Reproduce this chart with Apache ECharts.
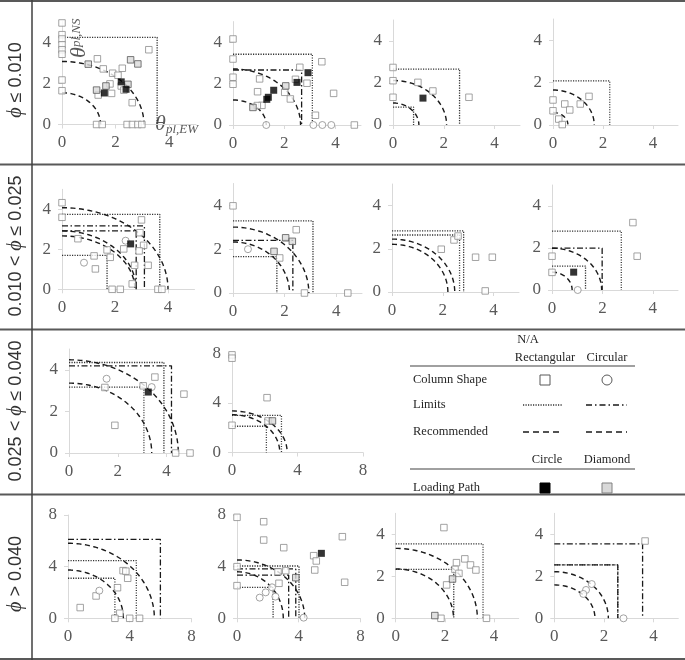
<!DOCTYPE html>
<html>
<head>
<meta charset="utf-8">
<script src="https://cdn.jsdelivr.net/npm/echarts@6/dist/echarts.min.js"></script>
<style>html,body{margin:0;padding:0;background:#fff}#c{width:685px;height:660px}</style>
</head>
<body>
<div id="c"></div>
<script>
// ---------------- DATA ----------------
// panel order: row1 c1..c4, row2 c1..c4, row3 c1..c2, row4 c1..c4
const panelAxisMax = [5,5,5,5, 5,5,5,5, 5,8, 8,8,5,5];
const tickLabels5 = [0,2,4];
const tickLabels8 = [0,4,8];
const rowLabels = ['ϕ ≤ 0.010','0.010 < ϕ ≤ 0.025','0.025 < ϕ ≤ 0.040','ϕ > 0.040'];

// [panel, θpl,EW, θpl,NS]
const openSquares = [
 [0,0,4.93],[0,0,4.36],[0,0,4.15],[0,0,3.87],[0,0,3.63],[0,0,3.41],[0,0,2.16],[0,0,1.64],
 [0,3.24,3.63],[0,1.32,3.19],[0,1.54,2.70],[0,2.25,2.73],[0,1.89,2.49],[0,2.09,2.39],[0,1.79,1.97],
 [0,1.35,1.43],[0,1.85,1.51],[0,2.21,1.87],[0,2.31,1.67],[0,2.62,1.06],
 [0,1.29,0],[0,1.50,0],[0,2.43,0],[0,2.63,0],[0,2.83,0],[0,2.98,0],
 [1,0,4.16],[1,0,3.19],[1,0,2.31],[1,0,1.97],[1,3.47,3.06],[1,2.61,2.79],[1,2.89,2.02],[1,2.44,2.21],
 [1,2.02,1.58],[1,2.24,1.26],[1,1.04,2.23],[1,0.96,1.61],[1,1.13,0.95],[1,0.95,0.94],[1,3.93,1.53],
 [1,3.22,0.47],[1,4.74,0],
 [2,0,2.74],[2,0,2.11],[2,0,1.32],[2,0.98,2.03],[2,1.57,1.62],[2,2.99,1.32],
 [3,0,1.18],[3,0,0.67],[3,0.23,0.28],[3,0.37,0.02],[3,0.47,0.99],[3,0.67,0.71],[3,1.09,0.99],[3,1.44,1.35],
 [4,0,4.33],[4,0,3.6],[4,0.6,2.53],[4,3.0,3.47],[4,2.94,2.83],[4,2.33,2.02],[4,3.08,2.2],[4,2.91,1.92],
 [4,2.74,1.2],[4,3.25,1.2],[4,2.65,0.27],[4,1.70,1.97],[4,1.82,1.6],[4,1.21,1.67],[4,1.26,1.02],
 [4,1.89,0],[4,2.2,0],[4,3.62,0],[4,3.77,0],
 [5,0,3.98],[5,2.45,2.89],[5,1.81,1.60],[5,2.77,0],[5,4.45,0],
 [6,1.94,1.98],[6,2.44,2.41],[6,2.6,2.59],[6,3.29,1.61],[6,3.95,1.61],[6,3.67,0.05],
 [7,0,1.61],[7,0,0.84],[7,3.21,3.21],[7,3.38,1.61],
 [8,1.47,3.15],[8,3.04,3.23],[8,3.52,3.65],[8,1.88,1.33],[8,4.71,2.83],[8,4.37,0],[8,4.96,0],
 [9,0,7.89],[9,0,7.62],[9,0,2.2],[9,2.14,4.43],[9,2.2,2.55],
 [10,0.79,0.83],[10,1.82,1.73],[10,3.57,3.69],[10,3.75,3.65],[10,3.87,3.1],[10,3.21,2.37],[10,3.36,0.39],
 [10,3.04,0],[10,4.0,0],[10,4.64,0],
 [11,0,7.82],[11,1.73,7.48],[11,1.73,6.06],[11,3.03,5.47],[11,6.83,6.32],[11,6.98,2.79],[11,4.97,4.85],
 [11,5.14,4.44],[11,5.04,3.74],[11,0,4.0],[11,0,2.53],[11,2.66,3.61],[11,3.16,3.69],[11,2.72,2.71],
 [12,1.96,4.32],[12,2.81,2.83],[12,3.04,2.54],[12,3.26,2.30],[12,2.47,2.65],[12,2.41,2.33],[12,2.57,2.14],
 [12,2.07,1.59],[12,1.84,0],[12,3.69,0],
 [13,3.66,3.68]
];
const openCircles = [
 [1,1.30,0],[1,3.14,0],[1,3.49,0],[1,3.84,0],
 [4,0.83,1.33],[4,2.4,2.43],
 [5,0.58,2.0],
 [7,1.02,0],
 [8,1.54,3.57],[8,3.39,3.17],
 [10,2.03,2.14],
 [11,1.47,1.6],[11,1.86,2.01],[11,2.27,2.4],[11,2.49,1.68],[11,4.32,0.05],
 [13,1.51,1.63],[13,1.28,1.35],[13,1.17,1.16],[13,2.79,0]
];
const circlePathPoints = [ // loading path: Circle (black)
 [0,1.58,1.53],[0,2.21,2.07],[0,2.39,1.71],
 [1,2.93,2.53],[1,2.50,2.06],[1,1.59,1.68],[1,1.38,1.34],[1,1.32,1.24],
 [2,1.18,1.28],
 [4,2.59,2.27],
 [7,0.86,0.85],
 [8,3.25,2.93],
 [11,5.47,5.03]
];
const diamondPathPoints = [ // loading path: Diamond (gray)
 [0,0.98,2.93],[0,2.56,3.14],[0,2.83,2.94],[0,1.29,1.67],[0,1.64,1.87],[0,2.46,1.95],
 [1,2.06,1.89],[1,0.78,0.85],
 [5,2.04,2.52],[5,2.30,2.36],[5,1.59,1.90],
 [9,2.47,2.55],
 [11,3.81,3.15],
 [12,2.31,1.87],[12,1.59,0.13]
];
// limits [panel, θEW limit, θNS limit]
const rectLimits = [
 [0,3.55,4.23],[1,3.10,3.42],[2,2.62,2.66],[2,0.81,0.85],[3,2.27,2.08],
 [4,3.69,3.75],[4,1.70,1.70],[5,3.10,3.29],[5,1.70,1.66],[6,2.82,2.83],[6,2.66,2.64],[7,2.75,2.8],[7,1.33,1.14],
 [8,3.89,4.35],[8,3.07,3.17],[9,3.02,3.0],[9,2.1,2.12],
 [10,4.43,4.46],[10,3.04,3.1],[11,4.02,4.05],[11,2.34,2.4],[12,3.55,3.54],[12,2.36,2.33],[13,2.56,2.54]
];
const circLimits = [
 [1,2.68,2.66],[4,3.11,3.17],[4,2.8,2.92],[5,2.32,2.40],[7,1.99,1.99],[8,4.2,4.19],
 [10,5.99,6.12],[11,3.81,3.82],[11,3.35,3.35],[13,2.56,2.54],[13,3.56,3.54]
];
// recommended interaction curves: [panel, EW intercept, NS intercept]
const recommended = [
 [0,3.06,3.06],[0,1.44,1.54],[1,2.64,2.71],[1,1.3,1.21],[2,2.11,2.12],[2,1.02,1.05],[3,1.65,1.65],[3,0.6,0.59],
 [4,4.0,4.08],[4,2.8,2.92],[4,2.75,2.67],[5,2.94,3.01],[5,2.19,2.33],[6,2.47,2.45],[6,2.2,2.21],[7,1.97,1.99],[7,0.8,0.85],
 [8,4.48,4.48],[8,3.39,3.36],[9,3.37,3.36],[9,2.92,3.05],
 [10,5.6,5.81],[10,3.59,3.74],[11,4.39,4.52],[11,3.0,3.6],[12,3.32,3.33],[12,2.35,2.35],[13,2.18,2.22],[13,1.64,1.59]
];

// ---------------- LAYOUT (pixels) ----------------
const layout = [
 [62,21.5,134,103],[233,21.6,128,103.4],[393,20,127,105],[553,19,125,106],
 [62,189.3,132.5,100],[233,183.5,129,109.5],[392,184,127,108],[552,185,126,105],
 [69,349,122,104],[232,353.5,131,99],
 [68,515,123.4,103.3],[237,515,123.4,103.3],[395.7,513.3,123,105],[554.3,513.3,124,105]
];

const AX = '#d9d9d9', LBL = '#595959', LINE = '#1a1a1a';
const grids = [], xAxes = [], yAxes = [], series = [];
function axis(i, isX) {
  const M = panelAxisMax[i];
  const ticks = M === 8 ? tickLabels8 : tickLabels5;
  return {
    gridIndex: i, type: 'value', min: 0, max: M, interval: M === 8 ? 4 : 2,
    axisLine: {show: true, lineStyle: {color: AX, width: 1}},
    axisTick: {show: true, length: 4, customValues: ticks, lineStyle: {color: AX}},
    axisLabel: {customValues: ticks, fontFamily: 'Liberation Serif', fontSize: 17, color: LBL, margin: isX ? 10 : 11},
    splitLine: {show: false}
  };
}
function ellipse(a, b) {
  const pts = [];
  const n = 60;
  for (let k = 0; k <= n; k++) {
    const t = (Math.PI / 2) * k / n;
    pts.push([a * Math.sin(t), b * Math.cos(t)]);
  }
  return pts;
}
for (let i = 0; i < layout.length; i++) {
  const [l, t, w, h] = layout[i];
  grids.push({left: l, top: t, width: w, height: h});
  xAxes.push(axis(i, true));
  yAxes.push(axis(i, false));
  const sel = arr => arr.filter(d => d[0] === i).map(d => [d[1], d[2]]);
  rectLimits.filter(d => d[0] === i).forEach(d => series.push({
    type: 'line', xAxisIndex: i, yAxisIndex: i, data: [[0, d[2]], [d[1], d[2]], [d[1], 0]],
    symbol: 'none', silent: true, z: 2,
    lineStyle: {color: '#333', width: 1.3, type: [1.2, 1.3]}
  }));
  circLimits.filter(d => d[0] === i).forEach(d => series.push({
    type: 'line', xAxisIndex: i, yAxisIndex: i, data: [[0, d[2]], [d[1], d[2]], [d[1], 0]],
    symbol: 'none', silent: true, z: 2,
    lineStyle: {color: LINE, width: 1.3, type: [6, 2.5, 1.5, 2.5]}
  }));
  recommended.filter(d => d[0] === i).forEach(d => series.push({
    type: 'line', xAxisIndex: i, yAxisIndex: i, data: ellipse(d[1], d[2]),
    symbol: 'none', silent: true, z: 2,
    lineStyle: {color: LINE, width: 1.4, type: [5, 3.5]}
  }));
  series.push({type: 'scatter', xAxisIndex: i, yAxisIndex: i, data: sel(openSquares), clip: false, z: 5,
    symbol: 'rect', symbolSize: 6.5, itemStyle: {color: '#fff', borderColor: '#8c8c8c', borderWidth: 1}});
  series.push({type: 'scatter', xAxisIndex: i, yAxisIndex: i, data: sel(openCircles), clip: false, z: 5,
    symbol: 'circle', symbolSize: 7, itemStyle: {color: '#fff', borderColor: '#8c8c8c', borderWidth: 1}});
  series.push({type: 'scatter', xAxisIndex: i, yAxisIndex: i, data: sel(diamondPathPoints), clip: false, z: 6,
    symbol: 'rect', symbolSize: 6.5, itemStyle: {color: '#d9d9d9', borderColor: '#595959', borderWidth: 1}});
  series.push({type: 'scatter', xAxisIndex: i, yAxisIndex: i, data: sel(circlePathPoints), clip: false, z: 7,
    symbol: 'rect', symbolSize: 7, itemStyle: {color: '#000', borderColor: '#000', borderWidth: 0}});
}

// ---------------- GRAPHICS (frame, row labels, axis titles, legend) ----------------
const G = [];
const SEP = '#595959';
[1, 164.5, 329.5, 494.5, 659].forEach(y => G.push({type: 'line', shape: {x1: 0, y1: y, x2: 685, y2: y}, style: {stroke: SEP, lineWidth: 2}, silent: true}));
G.push({type: 'line', shape: {x1: 32, y1: 0, x2: 32, y2: 660}, style: {stroke: '#404040', lineWidth: 1.5}, silent: true});
const rowCenters = [80, 246, 411, 574];
rowLabels.forEach((s, r) => {
  const txt = s.replace('ϕ', '{i|ϕ}');
  G.push({type: 'text', x: 16, y: rowCenters[r], rotation: Math.PI / 2, silent: true,
    style: {text: txt, fontFamily: 'Liberation Sans', fontSize: 18, fill: '#333', align: 'center', verticalAlign: 'middle',
      rich: {i: {fontStyle: 'italic', fontFamily: 'Liberation Serif', fontSize: 20, fill: '#333'}}}});
});
// axis titles (first panel)
G.push({type: 'text', x: 155, y: 124, silent: true,
  style: {text: 'θ', fontFamily: 'Liberation Serif', fontStyle: 'italic', fontSize: 22, fill: LBL, verticalAlign: 'middle'}});
G.push({type: 'text', x: 166, y: 130, silent: true,
  style: {text: 'pl,EW', fontFamily: 'Liberation Serif', fontStyle: 'italic', fontSize: 13, fill: LBL, verticalAlign: 'middle'}});
G.push({type: 'text', x: 79, y: 58, rotation: Math.PI / 2, silent: true,
  style: {text: 'θ', fontFamily: 'Liberation Serif', fontStyle: 'italic', fontSize: 22, fill: LBL, verticalAlign: 'middle'}});
G.push({type: 'text', x: 77, y: 47, rotation: Math.PI / 2, silent: true,
  style: {text: 'pl,NS', fontFamily: 'Liberation Serif', fontStyle: 'italic', fontSize: 13, fill: LBL, verticalAlign: 'middle'}});
// legend
const LF = {fontFamily: 'Liberation Serif', fontSize: 12.5, fill: '#262626'};
const ltxt = (s, x, y, align) => G.push({type: 'text', x, y, silent: true, style: Object.assign({text: s, align: align || 'center', verticalAlign: 'middle'}, LF)});
ltxt('N/A', 528, 340);
ltxt('Rectangular', 545, 358); ltxt('Circular', 607, 358);
G.push({type: 'line', shape: {x1: 410, y1: 366, x2: 635, y2: 366}, style: {stroke: '#808080', lineWidth: 1.5}, silent: true});
ltxt('Column Shape', 413, 380, 'left');
G.push({type: 'rect', shape: {x: 540, y: 375, width: 10, height: 10}, style: {fill: '#fff', stroke: '#595959', lineWidth: 1}, silent: true});
G.push({type: 'circle', shape: {cx: 607, cy: 380, r: 5}, style: {fill: '#fff', stroke: '#595959', lineWidth: 1}, silent: true});
ltxt('Limits', 413, 405, 'left');
G.push({type: 'line', shape: {x1: 523, y1: 405, x2: 563, y2: 405}, style: {stroke: '#333', lineWidth: 1.3, lineDash: [1.2, 1.3]}, silent: true});
G.push({type: 'line', shape: {x1: 586, y1: 405, x2: 627, y2: 405}, style: {stroke: LINE, lineWidth: 1.5, lineDash: [6, 3, 1.5, 3]}, silent: true});
ltxt('Recommended', 413, 432, 'left');
G.push({type: 'line', shape: {x1: 523, y1: 432, x2: 563, y2: 432}, style: {stroke: LINE, lineWidth: 1.5, lineDash: [6, 4]}, silent: true});
G.push({type: 'line', shape: {x1: 586, y1: 432, x2: 627, y2: 432}, style: {stroke: LINE, lineWidth: 1.5, lineDash: [6, 4]}, silent: true});
ltxt('Circle', 547, 460); ltxt('Diamond', 607, 460);
G.push({type: 'line', shape: {x1: 410, y1: 469, x2: 635, y2: 469}, style: {stroke: '#808080', lineWidth: 1.5}, silent: true});
ltxt('Loading Path', 413, 488, 'left');
G.push({type: 'rect', shape: {x: 540, y: 483, width: 10, height: 10}, style: {fill: '#000', stroke: '#000', lineWidth: 1}, silent: true});
G.push({type: 'rect', shape: {x: 602, y: 483, width: 10, height: 10}, style: {fill: '#d9d9d9', stroke: '#808080', lineWidth: 1}, silent: true});

const chart = echarts.init(document.getElementById('c'), null, {renderer: 'canvas'});
chart.setOption({
  animation: false,
  backgroundColor: '#fff',
  grid: grids, xAxis: xAxes, yAxis: yAxes, series: series, graphic: G
});
</script>
</body>
</html>
